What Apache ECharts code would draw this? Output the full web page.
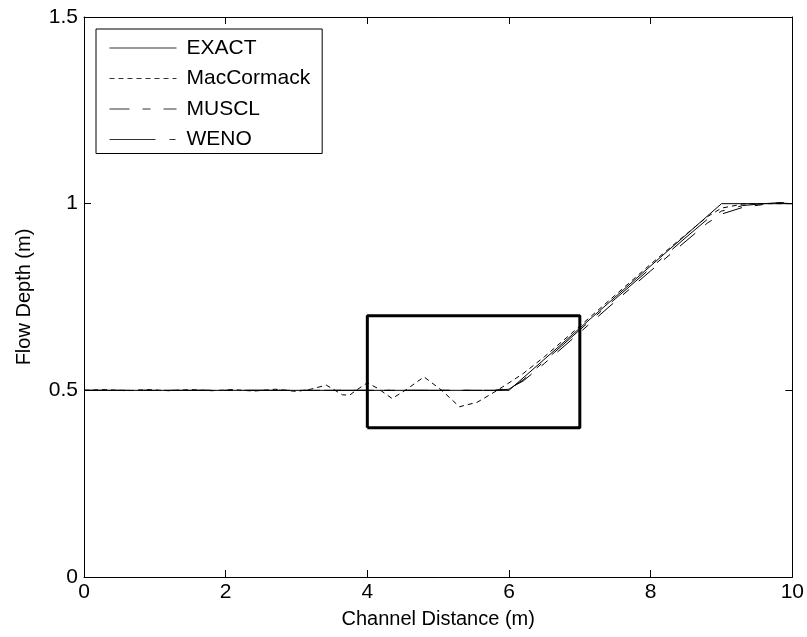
<!DOCTYPE html>
<html>
<head>
<meta charset="utf-8">
<script src="https://cdn.jsdelivr.net/npm/echarts@6/dist/echarts.min.js"></script>
<style>
  html, body { margin: 0; padding: 0; background: #fff; }
  #main { width: 807px; height: 637px; }
</style>
</head>
<body>
<div id="main"></div>
<script>
// data: [distance (m), depth (m)]
var exact = [[0, 0.5], [6, 0.5], [9, 1], [10, 1]];
var macCormack = [
  [0, 0.5], [0.3, 0.502], [0.6, 0.499], [0.9, 0.502], [1.2, 0.499], [1.5, 0.502],
  [1.8, 0.499], [2.1, 0.502], [2.4, 0.498], [2.7, 0.503], [3.0, 0.497], [3.2, 0.503],
  [3.42, 0.514], [3.65, 0.488], [3.75, 0.487], [3.84, 0.5], [4.0, 0.52], [4.15, 0.505],
  [4.35, 0.478], [4.55, 0.502], [4.8, 0.536], [5.05, 0.5], [5.3, 0.456], [5.55, 0.468],
  [5.8, 0.496], [6.0, 0.52], [6.2, 0.545], [6.5, 0.59], [7, 0.672], [7.5, 0.755],
  [8, 0.838], [8.5, 0.918], [8.8, 0.965], [9, 0.988], [9.3, 0.999], [9.6, 1.0], [10, 1.0]
];
var muscl = [
  [0, 0.5], [2, 0.5], [4, 0.5], [5.8, 0.5], [6.0, 0.505], [6.2, 0.525], [6.5, 0.572],
  [7, 0.655], [7.5, 0.738], [8, 0.82], [8.5, 0.9], [8.8, 0.948], [9, 0.972],
  [9.3, 0.99], [9.6, 0.998], [9.8, 1.002], [10, 1.0]
];
var weno = [
  [0, 0.5], [2, 0.5], [4, 0.5], [5.8, 0.5], [6.0, 0.503], [6.2, 0.528], [6.5, 0.578],
  [7, 0.662], [7.5, 0.745], [8, 0.827], [8.5, 0.91], [8.8, 0.958], [9, 0.98],
  [9.3, 0.995], [9.6, 1.0], [9.85, 1.003], [10, 1.0]
];
// highlighted region
var zoomBox = [[4, 0.4], [7, 0.4], [7, 0.7], [4, 0.7], [4, 0.4]];

var seriesNames = ['EXACT', 'MacCormack', 'MUSCL', 'WENO'];

var myChart = echarts.init(document.getElementById('main'));

var font = 'Liberation Sans, Arial, sans-serif';
var axisCommon = {
  axisLine: { show: true, onZero: false, lineStyle: { color: '#000', width: 1 } },
  axisTick: { show: true, inside: true, length: 7, lineStyle: { color: '#000' } },
  splitLine: { show: false }
};

function lineSeries(name, data, type) {
  return {
    name: name,
    type: 'line',
    data: data,
    symbol: 'none',
    itemStyle: { color: '#000' },
    lineStyle: { color: '#000', width: 1, type: type }
  };
}

option = {
  animation: false,
  grid: { left: 84, right: 13, top: 17, bottom: 60, containLabel: false },
  legend: {
    data: seriesNames,
    orient: 'vertical',
    left: 96,
    top: 29,
    itemWidth: 67,
    itemHeight: 14,
    itemGap: 8.5,
    padding: [8, 12, 3, 13],
    borderColor: '#000',
    borderWidth: 1,
    backgroundColor: '#fff',
    selectedMode: false,
    itemStyle: { opacity: 0 },
    lineStyle: { width: 1, color: '#333' },
    textStyle: { fontFamily: font, fontSize: 21, lineHeight: 22, color: '#000', padding: [0, 0, 0, 5] }
  },
  xAxis: [
    Object.assign({
      type: 'value', min: 0, max: 10, interval: 2, position: 'bottom',
      name: 'Channel Distance (m)', nameLocation: 'middle', nameGap: 32,
      nameTextStyle: { fontFamily: font, fontSize: 20, color: '#000' },
      axisLabel: { fontFamily: font, fontSize: 21, color: '#000', margin: 5 }
    }, axisCommon),
    Object.assign({
      type: 'value', min: 0, max: 10, interval: 2, position: 'top',
      axisLabel: { show: false }
    }, axisCommon)
  ],
  yAxis: [
    Object.assign({
      type: 'value', min: 0, max: 1.5, interval: 0.5, position: 'left',
      name: 'Flow Depth (m)', nameLocation: 'middle', nameGap: 50,
      nameTextStyle: { fontFamily: font, fontSize: 20, color: '#000' },
      axisLabel: { fontFamily: font, fontSize: 21, color: '#000', margin: 6 }
    }, axisCommon),
    Object.assign({
      type: 'value', min: 0, max: 1.5, interval: 0.5, position: 'right',
      axisLabel: { show: false }
    }, axisCommon)
  ],
  series: [
    lineSeries(seriesNames[0], exact, 'solid'),
    lineSeries(seriesNames[1], macCormack, [5, 4]),
    lineSeries(seriesNames[2], muscl, [20, 13, 8, 13]),
    lineSeries(seriesNames[3], weno, [46, 14, 6, 14]),
    {
      name: 'box',
      type: 'line',
      data: zoomBox,
      symbol: 'none',
      silent: true,
      lineStyle: { color: '#000', width: 3 }
    }
  ]
};

myChart.setOption(option);
</script>
</body>
</html>
